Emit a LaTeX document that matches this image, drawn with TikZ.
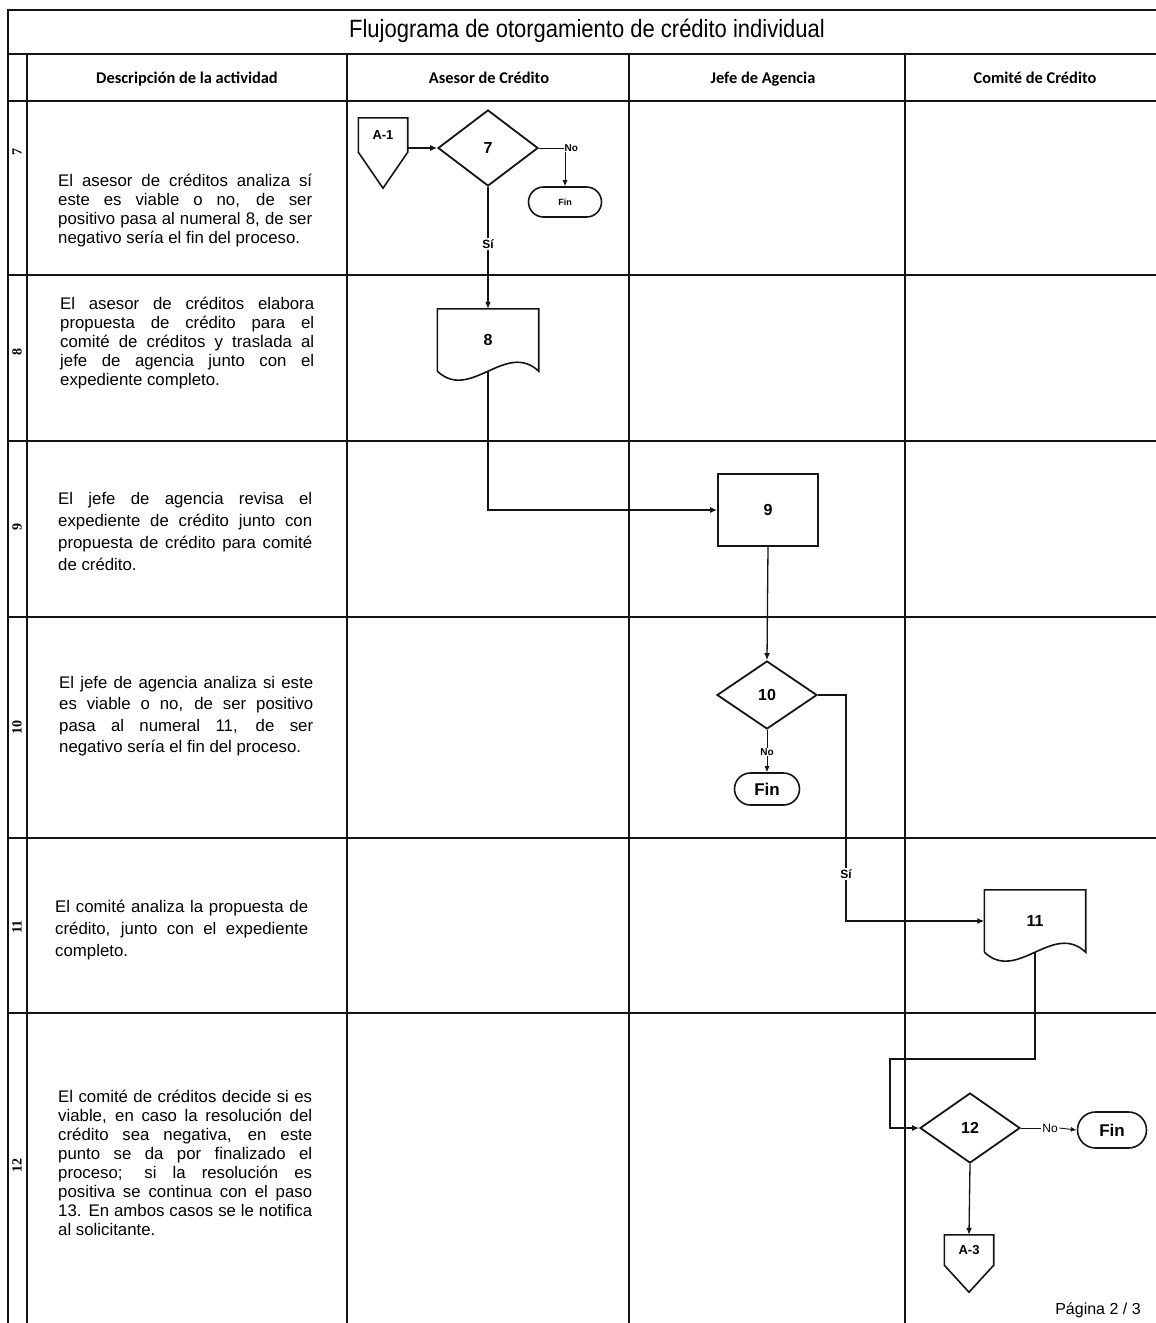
\documentclass[tikz,border=0pt]{standalone}
\usepackage{fontspec}
\setmainfont{Liberation Sans}
\newfontfamily\calibri{Carlito}
\newfontfamily\numfont{Liberation Serif}
\newfontfamily\titulofont[FakeStretch=0.88]{Liberation Sans}
\usepackage{tikz}
\usetikzlibrary{shapes.geometric,shapes.misc,arrows.meta,positioning,calc}

\definecolor{tinta}{RGB}{20,20,20}

\tikzset{
  rejilla/.style={draw=tinta, line width=1.8pt},
  linea/.style={draw=tinta, line width=1.3pt},
  lineafina/.style={draw=tinta, line width=0.9pt},
  flecha/.style={linea, -{Latex[length=7pt,width=6pt]}},
  flechafina/.style={lineafina, -{Latex[length=6pt,width=5pt]}},
  decision/.style={diamond, draw=tinta, line width=1.8pt, minimum width=100pt, minimum height=72pt, inner sep=0pt, font=\bfseries\fontsize{16}{16}\selectfont},
  proceso/.style={rectangle, draw=tinta, line width=1.8pt, minimum width=100pt, minimum height=72pt, inner sep=0pt, font=\bfseries\fontsize{16}{16}\selectfont},
  documento/.style={rectangle, minimum width=101pt, minimum height=62pt, inner sep=0pt, font=\bfseries\fontsize{16}{16}\selectfont},
  terminal/.style={rounded rectangle, draw=tinta, line width=1.6pt, inner sep=0pt},
  conector/.style={rectangle, minimum width=49pt, inner sep=0pt, font=\bfseries\fontsize{13}{13}\selectfont},
  descripcion/.style={anchor=west, text width=254pt, align=justify, inner sep=0pt, font=\fontsize{16.8}{19}\selectfont},
  cabecera/.style={text height=12pt, text depth=4pt, font=\calibri\bfseries\fontsize{16.4}{18}\selectfont},
  numfila/.style={rotate=90, font=\numfont\bfseries\fontsize{14}{14}\selectfont},
  etiqueta/.style={fill=white, inner sep=1.5pt, font=\bfseries\fontsize{12}{12}\selectfont}
}

\begin{document}
\begin{tikzpicture}[x=1pt, y=-1pt]
  \useasboundingbox (0,0) rectangle (1156,1323);

  % rejilla de la tabla
  \draw[rejilla] (8,1323) -- (8,10) -- (1156,10);
  \foreach \y in {54,101,275,441,617,838,1013}
    \draw[rejilla] (8,\y) -- (1156,\y);
  \foreach \x in {27,347,629,905}
    \draw[rejilla] (\x,54) -- (\x,1323);

  \node (titulo) at (587,31) {\titulofont\fontsize{25}{25}\selectfont Flujograma de otorgamiento de crédito individual};
  \node[cabecera] (hdesc) at (187,79) {Descripción de la actividad};
  \node[cabecera] (hasesor) at (489,79) {Asesor de Crédito};
  \node[cabecera] (hjefe) at (763,79) {Jefe de Agencia};
  \node[cabecera] (hcomite) at (1035,79) {Comité de Crédito};

  \node[numfila] (n7) at (17,152) {7};
  \node[numfila] (n8) at (17,352) {8};
  \node[numfila] (n9) at (17,527) {9};
  \node[numfila] (n10) at (17,727) {10};
  \node[numfila] (n11) at (17,927) {11};
  \node[numfila] (n12) at (17,1165) {12};

  % descripciones
  \node[descripcion] (t7) at (58,211) {El asesor de créditos analiza sí\linebreak este es viable o no, de ser\linebreak positivo pasa al numeral 8, de ser\linebreak negativo sería el fin del proceso.};
  \node[descripcion] (t8) at (60,343) {El asesor de créditos elabora\linebreak propuesta de crédito para el\linebreak comité de créditos y traslada al\linebreak jefe de agencia junto con el\linebreak expediente completo.};
  \node[descripcion, font=\fontsize{16.8}{22}\selectfont] (t9) at (58,531) {El jefe de agencia revisa el\linebreak expediente de crédito junto con\linebreak propuesta de crédito para comité\linebreak de crédito.};
  \node[descripcion, font=\fontsize{16.8}{21.5}\selectfont] (t10) at (59,716) {El jefe de agencia analiza si este\linebreak es viable o no, de ser positivo\linebreak pasa al numeral 11, de ser\linebreak negativo sería el fin del proceso.};
  \node[descripcion, text width=253pt, font=\fontsize{16.8}{22}\selectfont] (t11) at (55,930) {El comité analiza la propuesta de\linebreak crédito, junto con el expediente\linebreak completo.};
  \node[descripcion] (t12) at (58,1163) {El comité de créditos decide si es\linebreak viable, en caso la resolución del\linebreak crédito sea negativa, en este\linebreak punto se da por finalizado el\linebreak proceso; si la resolución es\linebreak positiva se continua con el paso\linebreak 13. En ambos casos se le notifica\linebreak al solicitante.};

  % paso 7
  \node[conector, minimum height=34pt] (a1) at (383,135) {A-1};
  \draw[tinta, line width=1.6pt] (a1.south west) -- (a1.north west) -- (a1.north east) -- (a1.south east) -- ($(a1.south)+(0,36)$) -- cycle;
  \node[decision, minimum height=76pt] (d7) at (488,148) {7};
  \draw[flecha] (a1.east |- d7.west) -- (d7.west);
  \node[etiqueta, anchor=west, inner sep=0.5pt, font=\bfseries\fontsize{10}{10}\selectfont] (no7) at (564,148) {No};
  \draw[lineafina] (d7.east) -- (no7.west);
  \node[terminal, minimum width=73pt, minimum height=30pt, font=\bfseries\fontsize{9}{9}\selectfont] (fin7) at (565,202) {Fin};
  \draw[flechafina] (fin7.north |- no7.south) -- (fin7.north);

  % paso 8
  \node[documento] (d8) at (488,340) {8};
  \draw[tinta, line width=1.6pt] (d8.south west) -- (d8.north west) -- (d8.north east) -- (d8.south east) .. controls +(-33,-31) and +(33,31) .. (d8.south west);
  \draw[flecha] (d7.south) -- node[etiqueta, pos=0.47] (si7) {Sí} (d8.north);

  % paso 9
  \node[proceso] (p9) at (768,510) {9};
  \draw[flecha] (d8.south) |- (p9.west);

  % paso 10
  \node[decision, minimum height=68pt] (d10) at (767,695) {10};
  \draw[flecha] (p9.south) -- (d10.north);
  \node[etiqueta, inner sep=0.5pt, font=\bfseries\fontsize{10}{10}\selectfont] (no10) at (767,752) {No};
  \node[terminal, minimum width=65pt, minimum height=32pt, font=\bfseries\fontsize{17}{17}\selectfont] (fin10) at (767,789) {Fin};
  \draw[lineafina] (d10.south) -- (no10.north);
  \draw[flechafina] (no10.south) -- (fin10.north);

  % paso 11
  \node[documento] (d11) at (1035,921) {11};
  \draw[tinta, line width=1.6pt] (d11.south west) -- (d11.north west) -- (d11.north east) -- (d11.south east) .. controls +(-33,-31) and +(33,31) .. (d11.south west);
  \node[etiqueta] (si10) at (846,874) {Sí};
  \draw[linea] (d10.east) -| (si10.north);
  \draw[flecha] (si10.south) |- (d11.west);

  % paso 12
  \node[decision, minimum height=70pt] (d12) at (970,1128) {12};
  \coordinate (codo12) at (890,1059);
  \draw[flecha] (d11.south) -- (d11.south |- codo12) -- (codo12) |- (d12.west);
  \node[etiqueta, font=\fontsize{12}{12}\selectfont] (no12) at (1050,1128) {No};
  \node[terminal, minimum width=69pt, minimum height=36pt, font=\bfseries\fontsize{17}{17}\selectfont] (fin12) at (1112,1130) {Fin};
  \draw[lineafina] (d12.east) -- (no12.west);
  \draw[flechafina] (no12.east) -- (fin12.west);
  \node[conector, minimum height=30pt] (a3) at (969,1250) {A-3};
  \draw[tinta, line width=1.6pt] (a3.south west) -- (a3.north west) -- (a3.north east) -- (a3.south east) -- ($(a3.south)+(0,27)$) -- cycle;
  \draw[flecha] (d12.south) -- (a3.north);

  \node (pagina) at (1098,1310) {\fontsize{16}{16}\selectfont Página 2 / 3};
\end{tikzpicture}
\end{document}
